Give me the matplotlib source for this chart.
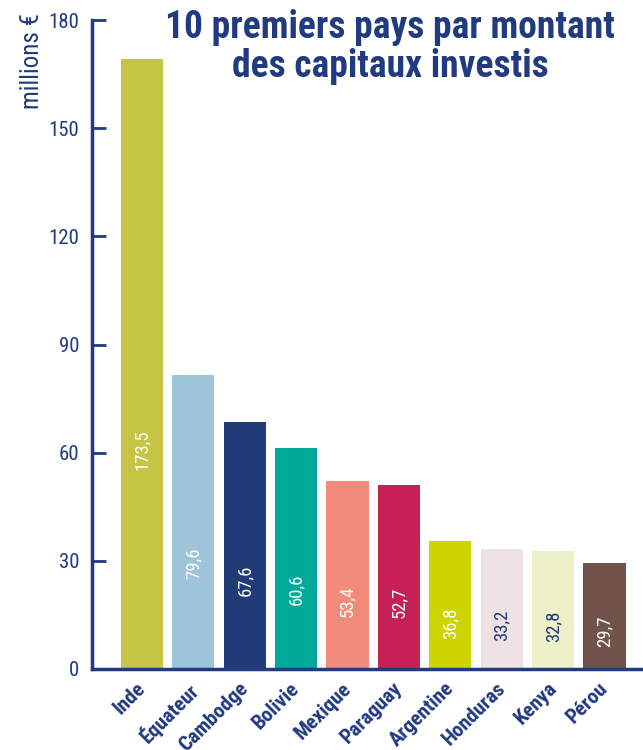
import matplotlib.pyplot as plt
from matplotlib.transforms import ScaledTranslation

# donnees
pays = ['Inde', 'Équateur', 'Cambodge', 'Bolivie', 'Mexique',
        'Paraguay', 'Argentine', 'Honduras', 'Kenya', 'Pérou']
hauteurs = [169.2, 81.5, 68.5, 61.3, 52.2, 51.0, 35.5, 33.3, 32.7, 29.4]
etiquettes = ['173,5', '79,6', '67,6', '60,6', '53,4',
              '52,7', '36,8', '33,2', '32,8', '29,7']
couleurs = ['#c4c445', '#9dc4d8', '#213b78', '#00a99a', '#f28c7a',
            '#c62054', '#cdd500', '#efe2e2', '#eef0c8', '#72534b']
couleursTexte = ['white', 'white', 'white', 'white', 'white',
                 'white', 'white', '#213a80', '#213a80', 'white']
graduations = [0, 30, 60, 90, 120, 150, 180]

bleu = '#213a80'
plt.rcParams['font.family'] = ['Roboto Condensed', 'DejaVu Sans']

fig = plt.figure(figsize=(6.43, 7.5), dpi=100)
ax = fig.add_axes([0.1431, 0.108, 0.8569, 0.8653])

x = range(len(pays))
ax.bar(x, hauteurs, width=0.82, color=couleurs)

# valeurs ecrites verticalement dans les barres
for i in x:
    ax.text(i, hauteurs[i] * 0.36, etiquettes[i], rotation=90,
            ha='center', va='center', fontsize=13.5, color=couleursTexte[i])

ax.set_ylim(0, 180)
ax.set_xlim(-0.97, 9.75)
ax.set_yticks(graduations)
ax.set_yticklabels([str(g) for g in graduations], fontsize=15, color=bleu)
ax.tick_params(axis='y', direction='in', length=10, width=2, color=bleu, pad=9)

ax.set_xticks(list(x))
ax.set_xticklabels(pays, rotation=45, ha='right', va='top',
                   rotation_mode='anchor', fontsize=15, color=bleu,
                   fontweight='bold')
ax.tick_params(axis='x', length=0, pad=7)
# decale un peu les noms de pays vers la gauche
decalage = ScaledTranslation(-0.06, 0, fig.dpi_scale_trans)
for lab in ax.get_xticklabels():
    lab.set_transform(lab.get_transform() + decalage)

for cote in ['top', 'right']:
    ax.spines[cote].set_visible(False)
for cote in ['left', 'bottom']:
    ax.spines[cote].set_color(bleu)
    ax.spines[cote].set_linewidth(2.5)

fig.text(32 / 643, 1 - 13 / 750, 'millions €', rotation=90, ha='center',
         va='top', fontsize=18, color=bleu)
fig.text(390 / 643, 1 - 47 / 750, '10 premiers pays par montant\ndes capitaux investis',
         ha='center', va='center', fontsize=27, fontweight='bold', color=bleu,
         linespacing=1.1)

fig.savefig('out.png')
